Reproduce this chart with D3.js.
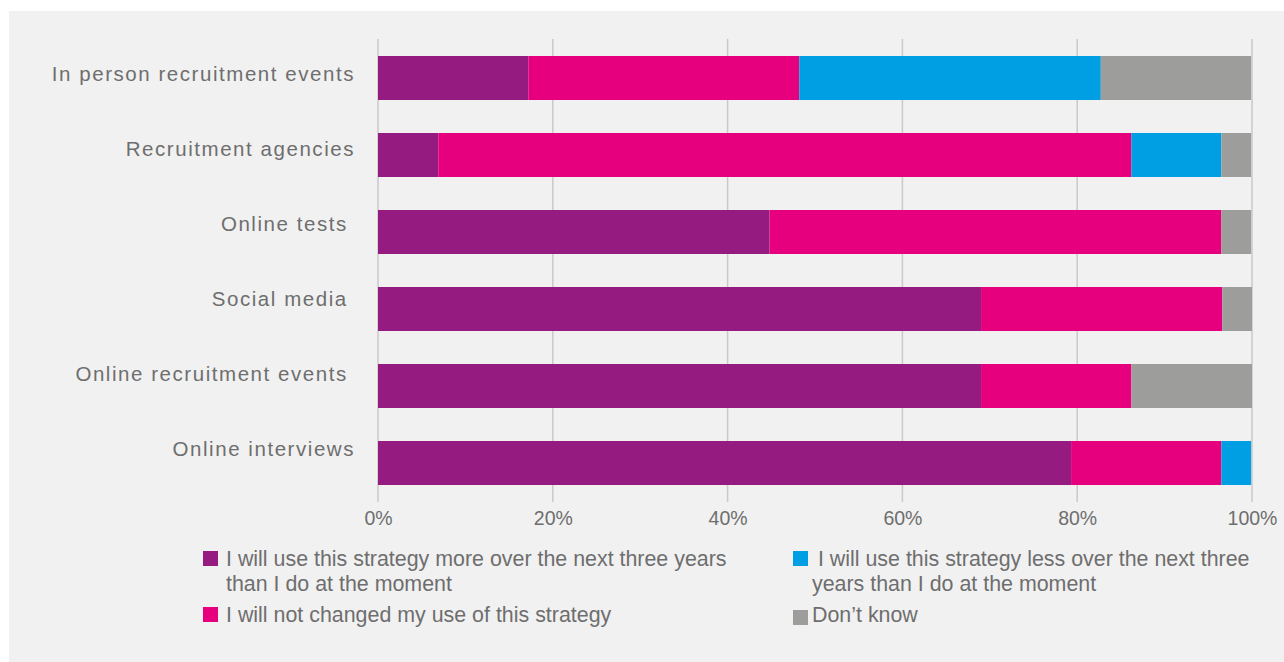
<!DOCTYPE html>
<html>
<head>
<meta charset="utf-8">
<script src="https://cdn.jsdelivr.net/npm/d3@7"></script>
<style>
  html, body { margin: 0; padding: 0; background: #ffffff; }
  svg text { font-family: "Liberation Sans", Arial, sans-serif; fill: #6e6e6e; white-space: pre; }
</style>
</head>
<body>
<svg id="chart" width="1284" height="662"></svg>
<script>
// Survey responses per recruitment strategy (percent of respondents)
const categories = [
  "In person recruitment events",
  "Recruitment agencies",
  "Online tests ",
  "Social media ",
  "Online recruitment events ",
  "Online interviews"
];
const useMore     = [17.2,  6.9, 44.8, 69.0, 69.0, 79.3];
const noChange    = [31.0, 79.3, 51.7, 27.6, 17.2, 17.2];
const useLess     = [34.5, 10.3,  0.0,  0.0,  0.0,  3.4];
const dontKnow    = [17.2,  3.4,  3.4,  3.4, 13.8,  0.0];

const seriesKeys = ["more", "same", "less", "unknown"];
const seriesColors = ["#951b81", "#e6007e", "#009fe3", "#9d9d9c"];
const legendLabels = [
  ["I will use this strategy more over the next three years", "than I do at the moment"],
  ["I will not changed my use of this strategy"],
  [" I will use this strategy less over the next three", "years than I do at the moment"],
  ["Don\u2019t know"]
];
const tickValues = [0, 20, 40, 60, 80, 100];

const rows = categories.map((c, i) => ({
  category: c,
  more: useMore[i], same: noChange[i], less: useLess[i], unknown: dontKnow[i]
}));

const svg = d3.select("#chart");

// panel background
svg.append("rect")
  .attr("x", 9).attr("y", 11)
  .attr("width", 1284 - 9).attr("height", 662 - 11)
  .attr("fill", "#f1f1f1");

const x = d3.scaleLinear().domain([0, 100]).range([378, 1252]);
const y = d3.scaleBand().domain(categories).range([40.6, 500.4]).paddingInner(0.4286).paddingOuter(0.2);
const labelY = d3.scalePoint().domain(categories).range([81, 456]);

// vertical gridlines
const gridTop = 39, gridBottom = 502;
svg.append("g").selectAll("line")
  .data(tickValues)
  .join("line")
  .attr("x1", d => x(d)).attr("x2", d => x(d))
  .attr("y1", gridTop).attr("y2", gridBottom)
  .attr("stroke", "#c9c9c9")
  .attr("stroke-width", 1.5);

// stacked bars
const stack = d3.stack().keys(seriesKeys)(rows);
const color = d3.scaleOrdinal().domain(seriesKeys).range(seriesColors);

svg.append("g").selectAll("g")
  .data(stack)
  .join("g")
  .attr("fill", d => color(d.key))
  .selectAll("rect")
  .data(d => d.filter(s => s[1] - s[0] > 0))
  .join("rect")
  .attr("x", d => x(d[0]))
  .attr("y", d => y(d.data.category))
  .attr("width", d => x(d[1]) - x(d[0]))
  .attr("height", y.bandwidth());

// category labels
svg.append("g").selectAll("text")
  .data(categories)
  .join("text")
  .attr("x", 355)
  .attr("y", d => labelY(d))
  .attr("text-anchor", "end")
  .style("font-size", "20.5px")
  .style("letter-spacing", "1.55px")
  .text(d => d);

// x-axis tick labels
const axis = d3.axisBottom(x).tickValues(tickValues).tickFormat(d => d + "%").tickSize(0).tickPadding(0);
const axisG = svg.append("g").attr("transform", "translate(0,510)").call(axis);
axisG.select(".domain").remove();
axisG.selectAll("text")
  .attr("dy", null)
  .attr("y", 15)
  .style("font-family", "\"Liberation Sans\", Arial, sans-serif")
  .style("font-size", "19.5px")
  .style("fill", "#6e6e6e");

// legend
const legendPos = [
  { sx: 203, sy: 551, tx: 226, ty: 566 },
  { sx: 203, sy: 607, tx: 226, ty: 622 },
  { sx: 793, sy: 551, tx: 812, ty: 566 },
  { sx: 793, sy: 610, tx: 812, ty: 622 }
];
const legend = svg.append("g").selectAll("g")
  .data(seriesKeys)
  .join("g");
legend.append("rect")
  .attr("x", (d, i) => legendPos[i].sx)
  .attr("y", (d, i) => legendPos[i].sy)
  .attr("width", 15).attr("height", 15)
  .attr("fill", d => color(d));
legend.append("text")
  .attr("x", (d, i) => legendPos[i].tx)
  .attr("y", (d, i) => legendPos[i].ty)
  .style("font-size", "21.4px")
  .selectAll("tspan")
  .data((d, i) => legendLabels[i].map((t, j) => ({ t, j, x: legendPos[i].tx })))
  .join("tspan")
  .attr("x", d => d.x)
  .attr("dy", d => d.j === 0 ? 0 : 24.5)
  .text(d => d.t);
</script>
</body>
</html>
